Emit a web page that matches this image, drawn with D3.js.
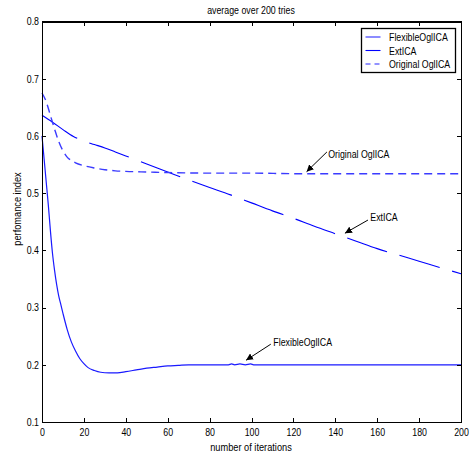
<!doctype html>
<html>
<head>
    <style>
        body {
            margin: 0;
            background: white;
        }

        text {
            font-family: "Liberation Sans", Arial, Helvetica, sans-serif;
            fill: #000;
        }

        .axis text {
            font-size: 10.5px;
        }

        .axis path, .axis line {
            stroke: #000;
            shape-rendering: crispEdges;
        }

        .curve {
            fill: none;
            stroke: #0000ff;
            stroke-width: 1.1;
        }
    </style>
    <script src="https://d3js.org/d3.v7.min.js"></script>
</head>
<body>
<script>
    // values
    const flexIter = [0, 1, 2, 3, 4, 5, 6, 7, 8, 9, 10, 12, 14, 16, 18, 20, 22, 25, 28, 32, 36, 40, 45, 50, 55, 60, 65, 70, 80, 89, 90.5, 92, 94.5, 97, 99.6, 101, 110, 130, 150, 170, 200]
    const flexVal = [0.600, 0.560, 0.520, 0.480, 0.435, 0.395, 0.365, 0.340, 0.320, 0.305, 0.290, 0.262, 0.240, 0.224, 0.211, 0.202, 0.195, 0.190, 0.187, 0.186, 0.186, 0.188, 0.191, 0.194, 0.196, 0.198, 0.199, 0.200, 0.200, 0.200, 0.2015, 0.200, 0.2015, 0.200, 0.2015, 0.200, 0.200, 0.200, 0.200, 0.200, 0.200]

    const extIter = [0, 5, 10, 15, 20, 25, 30, 35, 40, 50, 60, 70, 80, 90, 100, 110, 120, 130, 140, 150, 160, 170, 180, 190, 200]
    const extVal = [0.636, 0.624, 0.611, 0.599, 0.591, 0.585, 0.579, 0.572, 0.565, 0.551, 0.537, 0.523, 0.510, 0.497, 0.483, 0.469, 0.456, 0.442, 0.429, 0.416, 0.403, 0.392, 0.381, 0.370, 0.359]

    const origIter = [0, 2, 4, 6, 8, 10, 12, 14, 16, 20, 25, 30, 35, 40, 50, 60, 80, 100, 120, 140, 160, 180, 200]
    const origVal = [0.675, 0.660, 0.636, 0.612, 0.590, 0.574, 0.563, 0.557, 0.553, 0.548, 0.544, 0.541, 0.539, 0.538, 0.537, 0.536, 0.535, 0.535, 0.534, 0.534, 0.534, 0.534, 0.534]

    const xTicks = [0, 20, 40, 60, 80, 100, 120, 140, 160, 180, 200]
    const yTicks = [0.1, 0.2, 0.3, 0.4, 0.5, 0.6, 0.7, 0.8]

    const legendNames = ['FlexibleOglICA', 'ExtICA', 'Original OglICA']

    // annotation: label anchor, arrow tail, arrow tip (data coords)
    const notes = [
        {text: 'Original OglICA', tx: 136.6, ty: 0.561, x1: 136.0, y1: 0.572, x2: 126.3, y2: 0.5375},
        {text: 'ExtICA', tx: 156.7, ty: 0.452, x1: 155.6, y1: 0.453, x2: 144.6, y2: 0.430},
        {text: 'FlexibleOglICA', tx: 110.4, ty: 0.232, x1: 109.2, y1: 0.236, x2: 97.4, y2: 0.208}
    ]

    const W = 470, H = 457
    const margin = {left: 42, right: 9, top: 21.5, bottom: 35}
    const squeeze = 0.84 // the original font is a narrow helvetica

    const svg = d3.select('body').append('svg')
        .attr('width', W)
        .attr('height', H)

    const x = d3.scaleLinear().domain([0, 200]).range([margin.left, W - margin.right])
    const y = d3.scaleLinear().domain([0.1, 0.8]).range([H - margin.bottom, margin.top])

    function label(parent, px, py, str, size, extra = '') {
        return parent.append('text')
            .attr('transform', `translate(${px},${py}) ${extra} scale(${squeeze},1)`)
            .style('font-size', size + 'px')
            .text(str)
    }

    const defs = svg.append('defs')
    defs.append('marker')
        .attr('id', 'head')
        .attr('viewBox', '0 0 10 10')
        .attr('refX', 10).attr('refY', 5)
        .attr('markerWidth', 7).attr('markerHeight', 7)
        .attr('markerUnits', 'userSpaceOnUse')
        .attr('orient', 'auto')
        .append('path')
        .attr('d', 'M0,0 L10,5 L0,10 z')
        .attr('fill', '#000')

    // curves
    const line = d3.line()
        .x(d => x(d[0]))
        .y(d => y(d[1]))
        .curve(d3.curveMonotoneX)

    const series = [
        {iter: flexIter, val: flexVal, dash: null, color: '#1a1aff', width: 1.2},
        {iter: extIter, val: extVal, dash: '42,13', color: '#0000ff', width: 1.1},
        {iter: origIter, val: origVal, dash: '8,5', color: '#3b3bff', width: 1.4}
    ]

    svg.append('g').selectAll('path').data(series).enter()
        .append('path')
        .attr('class', 'curve')
        .attr('d', s => line(s.iter.map((it, i) => [it, s.val[i]])))
        .style('stroke', s => s.color)
        .style('stroke-width', s => s.width)
        .style('stroke-dasharray', s => s.dash)

    // axes, MATLAB style box with inward ticks
    const tickLen = 4
    const gx = svg.append('g').attr('class', 'axis')
        .attr('transform', `translate(0,${y(0.1)})`)
        .call(d3.axisBottom(x).tickValues(xTicks).tickSize(-tickLen).tickPadding(7).tickFormat(d3.format('d')))
    gx.selectAll('text').attr('transform', `scale(${squeeze},1)`)
    svg.append('g').attr('class', 'axis')
        .attr('transform', `translate(0,${y(0.8)})`)
        .call(d3.axisTop(x).tickValues(xTicks).tickSize(-tickLen).tickFormat(''))
    const gy = svg.append('g').attr('class', 'axis')
        .attr('transform', `translate(${x(0)},0)`)
        .call(d3.axisLeft(y).tickValues(yTicks).tickSize(-tickLen).tickFormat(d3.format('.1f')))
    gy.selectAll('text').attr('x', -3 / squeeze).attr('transform', `scale(${squeeze},1)`)
    svg.append('g').attr('class', 'axis')
        .attr('transform', `translate(${x(200)},0)`)
        .call(d3.axisRight(y).tickValues(yTicks).tickSize(-tickLen).tickFormat(''))

    svg.selectAll('.axis .domain').attr('stroke-width', 1.3)

    // titles
    label(svg, 251, 14, 'average over 200 tries', 10.5).attr('text-anchor', 'middle')
    label(svg, 251, 451, 'number of iterations', 11).attr('text-anchor', 'middle')
    label(svg, 21, 209, 'perfomance index', 11, 'rotate(-90)').attr('text-anchor', 'middle')

    // annotations
    const ann = svg.append('g')
    notes.forEach(n => {
        ann.append('line')
            .attr('x1', x(n.x1)).attr('y1', y(n.y1))
            .attr('x2', x(n.x2)).attr('y2', y(n.y2))
            .attr('stroke', '#000')
            .attr('stroke-width', 1)
            .attr('marker-end', 'url(#head)')
        label(ann, x(n.tx), y(n.ty), n.text, 10.5)
    })

    // legend
    const lg = svg.append('g').attr('transform', 'translate(361.5,28.5)')
    lg.append('rect')
        .attr('width', 94).attr('height', 44)
        .attr('fill', 'white')
        .attr('stroke', '#000')
        .attr('stroke-width', 1.3)
    legendNames.forEach((name, i) => {
        const yy = 8.5 + i * 13.5
        lg.append('line')
            .attr('x1', 4).attr('x2', 19)
            .attr('y1', yy).attr('y2', yy)
            .attr('stroke', i === 1 ? '#0000ff' : '#6f6fff')
            .attr('stroke-width', i === 1 ? 1.1 : 1.6)
            .style('stroke-dasharray', i === 2 ? '5,4' : null)
        label(lg, 27.5, yy + 4, name, 10.5)
    })
</script>
</body>
</html>
